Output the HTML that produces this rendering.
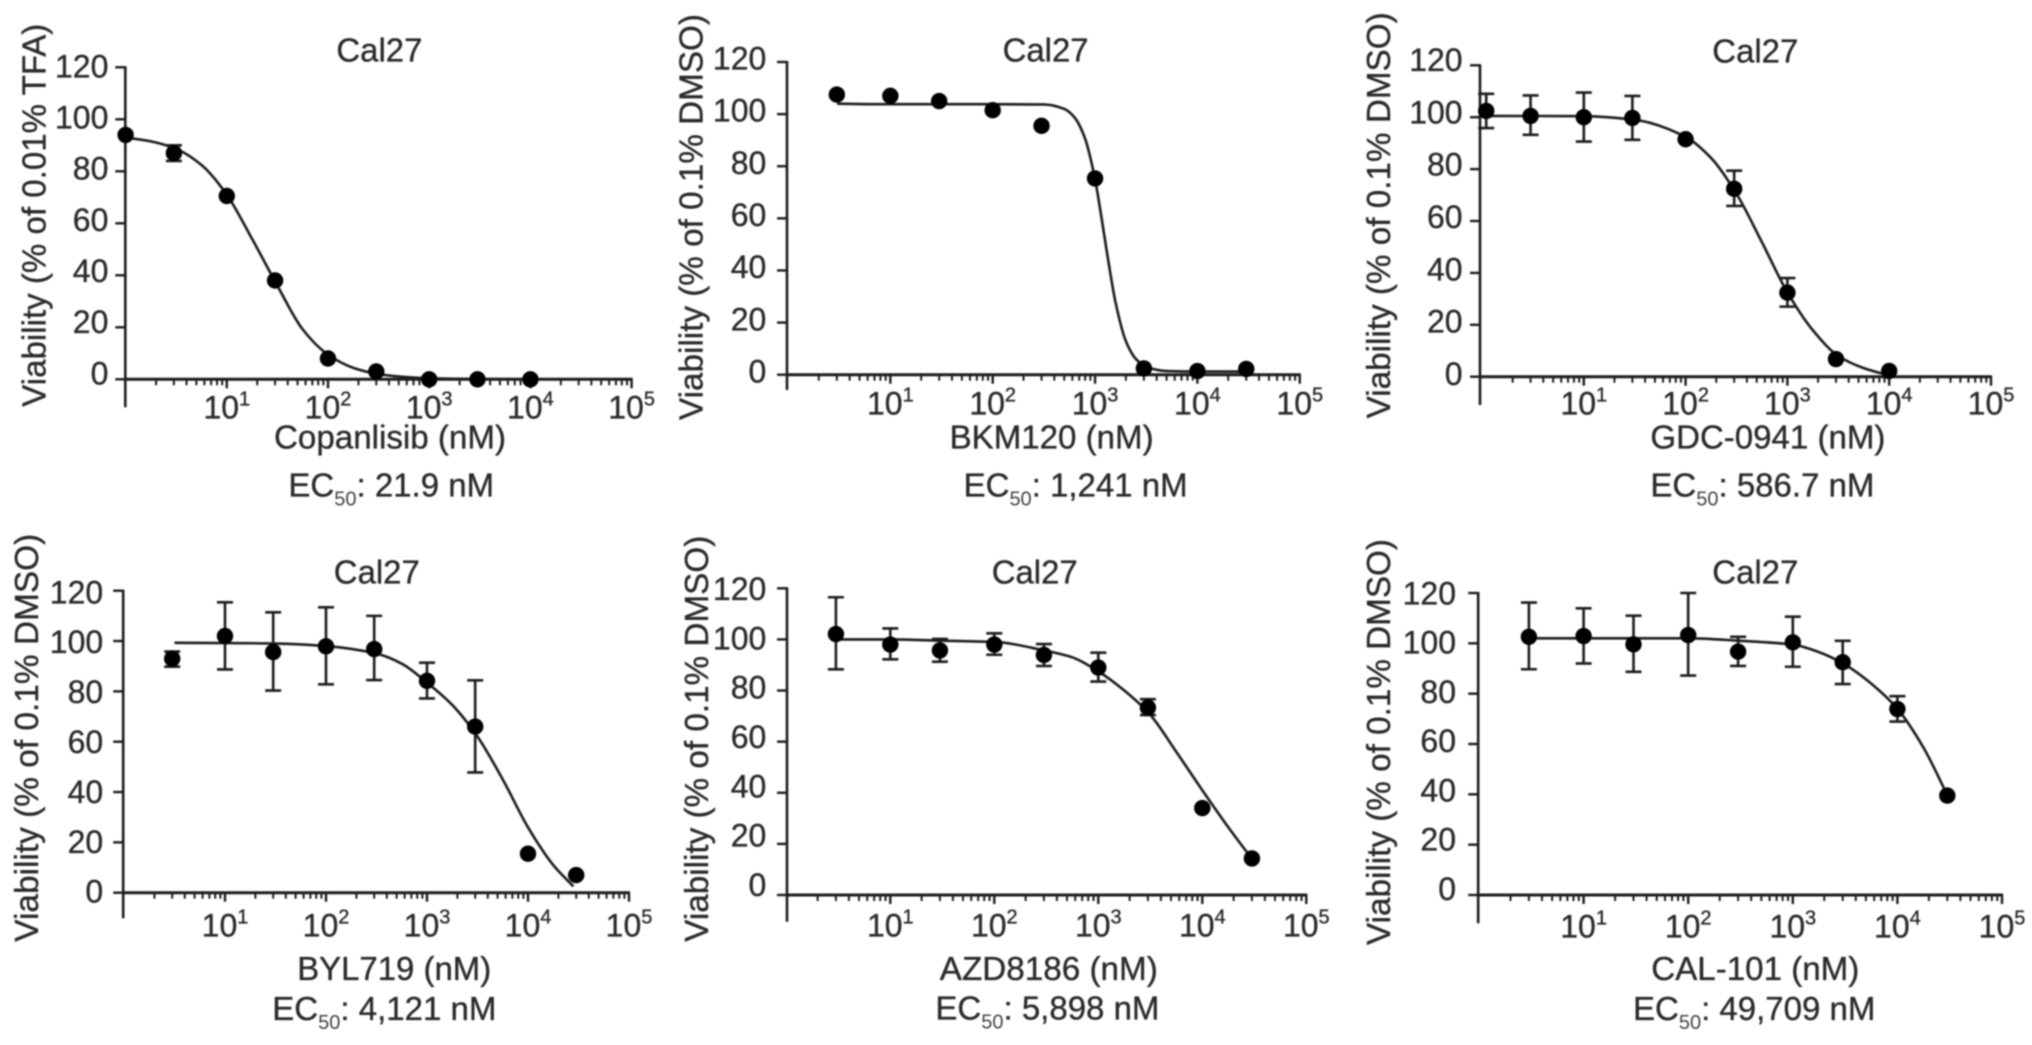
<!DOCTYPE html>
<html lang="en">
<head>
<meta charset="utf-8">
<title>Cal27 viability dose-response curves</title>
<style>
html,body{margin:0;padding:0;background:#fff;}
svg{display:block;}
text{font-family:"Liberation Sans",Arial,sans-serif;fill:#2a2a2a;stroke:#2a2a2a;stroke-width:0.35px;}
.t{font-size:33px;}
.sub{font-size:20px;fill:#444;stroke:none;}
</style>
</head>
<body>
<svg id="figure" xmlns="http://www.w3.org/2000/svg" width="2032" height="1045" viewBox="0 0 2032 1045">
<defs><filter id="soft" x="0" y="0" width="100%" height="100%"><feGaussianBlur stdDeviation="0.7"/></filter></defs>
<rect width="2032" height="1045" fill="#fff"/>
<g filter="url(#soft)">

<g id="panel-0">
<text class="t" x="379.4" y="61.7" text-anchor="middle" textLength="86" lengthAdjust="spacingAndGlyphs">Cal27</text>
<text class="t" x="45.5" y="406.7" transform="rotate(-90 45.5 406.7)" textLength="383" lengthAdjust="spacingAndGlyphs">Viability (% of 0.01% TFA)</text>
<text class="t" x="390" y="448.3" text-anchor="middle" textLength="232" lengthAdjust="spacingAndGlyphs">Copanlisib (nM)</text>
<text class="t" x="288.4" y="496.7">EC<tspan class="sub" dy="9">50</tspan><tspan dy="-9">: 21.9 nM</tspan></text>
</g>

<g id="panel-1">
<text class="t" x="1045.6" y="61.7" text-anchor="middle" textLength="86" lengthAdjust="spacingAndGlyphs">Cal27</text>
<text class="t" x="702.5" y="420" transform="rotate(-90 702.5 420)" textLength="406" lengthAdjust="spacingAndGlyphs">Viability (% of 0.1% DMSO)</text>
<text class="t" x="1051.6" y="448.3" text-anchor="middle" textLength="204" lengthAdjust="spacingAndGlyphs">BKM120 (nM)</text>
<text class="t" x="963.6" y="496.7">EC<tspan class="sub" dy="9">50</tspan><tspan dy="-9">: 1,241 nM</tspan></text>
</g>

<g id="panel-2">
<text class="t" x="1755.3" y="62.7" text-anchor="middle" textLength="86" lengthAdjust="spacingAndGlyphs">Cal27</text>
<text class="t" x="1390.2" y="418.3" transform="rotate(-90 1390.2 418.3)" textLength="406" lengthAdjust="spacingAndGlyphs">Viability (% of 0.1% DMSO)</text>
<text class="t" x="1767.9" y="448.3" text-anchor="middle" textLength="235" lengthAdjust="spacingAndGlyphs">GDC-0941 (nM)</text>
<text class="t" x="1650.4" y="496.7">EC<tspan class="sub" dy="9">50</tspan><tspan dy="-9">: 586.7 nM</tspan></text>
</g>

<g id="panel-3">
<text class="t" x="376.8" y="583.3" text-anchor="middle" textLength="86" lengthAdjust="spacingAndGlyphs">Cal27</text>
<text class="t" x="38.2" y="941.7" transform="rotate(-90 38.2 941.7)" textLength="408" lengthAdjust="spacingAndGlyphs">Viability (% of 0.1% DMSO)</text>
<text class="t" x="394.2" y="980" text-anchor="middle" textLength="194" lengthAdjust="spacingAndGlyphs">BYL719 (nM)</text>
<text class="t" x="272.3" y="1020">EC<tspan class="sub" dy="9">50</tspan><tspan dy="-9">: 4,121 nM</tspan></text>
</g>

<g id="panel-4">
<text class="t" x="1034.7" y="583.3" text-anchor="middle" textLength="86" lengthAdjust="spacingAndGlyphs">Cal27</text>
<text class="t" x="708.2" y="941.7" transform="rotate(-90 708.2 941.7)" textLength="406" lengthAdjust="spacingAndGlyphs">Viability (% of 0.1% DMSO)</text>
<text class="t" x="1048.8" y="980" text-anchor="middle" textLength="218" lengthAdjust="spacingAndGlyphs">AZD8186 (nM)</text>
<text class="t" x="935.4" y="1019.3">EC<tspan class="sub" dy="9">50</tspan><tspan dy="-9">: 5,898 nM</tspan></text>
</g>

<g id="panel-5">
<text class="t" x="1755.3" y="583.3" text-anchor="middle" textLength="86" lengthAdjust="spacingAndGlyphs">Cal27</text>
<text class="t" x="1390.2" y="945" transform="rotate(-90 1390.2 945)" textLength="406" lengthAdjust="spacingAndGlyphs">Viability (% of 0.1% DMSO)</text>
<text class="t" x="1755.3" y="980" text-anchor="middle" textLength="208" lengthAdjust="spacingAndGlyphs">CAL-101 (nM)</text>
<text class="t" x="1633" y="1020">EC<tspan class="sub" dy="9">50</tspan><tspan dy="-9">: 49,709 nM</tspan></text>
</g>

</g>
</svg>

<script>
// ---------- shared axis data ----------
const yTickValues = [0, 20, 40, 60, 80, 100, 120];
const xTickExponents = [1, 2, 3, 4, 5];
const minorMultipliers = [2, 3, 4, 5, 6, 7, 8, 9];
const minorDecades = [0, 1, 2, 3, 4];

// ---------- Copanlisib ----------
const copanlisibDoses = [1, 3, 10, 30, 100, 300, 1000, 3000, 10000];
const copanlisibViability = [94, 87, 70.5, 38, 8, 3, 0, 0, 0];
const copanlisibErrHigh = [null, 90, null, null, null, null, null, null, null];
const copanlisibErrLow = [null, 84, null, null, null, null, null, null, null];
const copanlisibCurveLogDose = [0, 0.25, 0.5, 0.75, 1, 1.25, 1.5, 1.75, 2, 2.25, 2.5, 2.75, 3, 3.5, 4];
const copanlisibCurveValues = [93, 91.5, 88.6, 82.4, 71, 54, 36, 19.2, 9.5, 4.4, 2, 0.9, 0.4, 0.08, 0];

// ---------- BKM120 ----------
const bkm120Doses = [3, 10, 30, 100, 300, 1000, 3000, 10000, 30000];
const bkm120Viability = [107.5, 107, 105, 101.5, 95.5, 75.3, 2.4, 1.4, 2.2];
const bkm120ErrHigh = [null, null, null, null, null, null, null, null, null];
const bkm120ErrLow = [null, null, null, null, null, null, null, null, null];
const bkm120CurveLogDose = [0.48, 1, 2, 2.5, 2.7, 2.8, 2.9, 3, 3.05, 3.1, 3.15, 3.2, 3.3, 3.4, 3.5, 3.7, 4, 4.48];
const bkm120CurveValues = [104, 103.8, 103.8, 103.7, 102, 98.7, 90.9, 75, 63.5, 51, 38.7, 27.8, 13, 6, 3, 1.4, 1.2, 1.2];

// ---------- GDC-0941 ----------
const gdcDoses = [1.1, 3, 10, 30, 100, 300, 1000, 3000, 10000];
const gdcViability = [102.4, 100.5, 100, 99.7, 91.5, 72.4, 32.4, 6.8, 2.2];
const gdcErrHigh = [109, 108.4, 109.5, 108.2, null, 79.4, 38, null, null];
const gdcErrLow = [95.8, 93.2, 90.6, 91.3, null, 65.8, 27, null, null];
const gdcCurveLogDose = [0, 1, 1.5, 2, 2.25, 2.5, 2.75, 3, 3.25, 3.5, 3.75, 4, 4.05];
const gdcCurveValues = [100.5, 100.4, 99, 92.4, 84.3, 70.5, 51.8, 32.5, 17.9, 8, 3.3, 0.5, 0];

// ---------- BYL719 ----------
const bylDoses = [3, 10, 30, 100, 300, 1000, 3000, 10000, 30000];
const bylViability = [93, 102, 95.6, 97.9, 96.8, 84.2, 66, 15.5, 7];
const bylErrHigh = [95.8, 115.4, 111.4, 113.4, 110, 91.4, 84.4, null, null];
const bylErrLow = [89.8, 88.7, 80.3, 82.8, 84.5, 77.2, 47.8, null, null];
const bylCurveLogDose = [0.5, 1, 1.5, 2, 2.5, 2.75, 3, 3.25, 3.5, 3.75, 4, 4.25, 4.45];
const bylCurveValues = [99.3, 99.2, 99, 98, 95, 91, 83.5, 74.6, 62, 45, 26, 11, 2.5];

// ---------- AZD8186 ----------
const azdDoses = [3, 10, 30, 100, 300, 1000, 3000, 10000, 30000];
const azdViability = [102.1, 98, 95.7, 98, 93.9, 89, 73.3, 34, 14.3];
const azdErrHigh = [116.5, 104.3, 100.2, 102.4, 98.2, 94.8, 76.6, null, null];
const azdErrLow = [88.3, 92.2, 91.3, 94, 89.6, 83.5, 70.4, null, null];
const azdCurveLogDose = [0.48, 1, 1.5, 2, 2.5, 2.75, 3, 3.25, 3.5, 3.75, 4, 4.25, 4.48];
const azdCurveValues = [100, 100, 99.5, 99, 95.5, 93, 87.5, 80, 70.5, 56, 41, 26.5, 14];

// ---------- CAL-101 ----------
const calDoses = [3, 10, 30, 100, 300, 1000, 3000, 10000, 30000];
const calViability = [102.6, 102.9, 99.6, 103.3, 96.7, 100.4, 92.5, 73.9, 39.5];
const calErrHigh = [116.2, 113.9, 111, 120, 102.6, 110.6, 101, 79, null];
const calErrLow = [89.7, 92, 88.7, 87.2, 91, 90.7, 83.8, 68.9, null];
const calCurveLogDose = [0.48, 1.5, 2, 2.5, 3, 3.25, 3.5, 3.75, 4, 4.25, 4.48];
const calCurveValues = [102, 102, 102, 101, 99.5, 96.5, 91.5, 84, 74, 58.5, 39.5];

// ---------- panel frames (pixel layout, kept apart from the data) ----------
const frames = [
  {axisX:125.3, decade0:125.6, decade:101.2, y0:379.3, y120:67.3, bottom:407.3, labelEnd:108.4, label0:384.3, label120:77.3, xLabelBase:418.3},
  {axisX:787, decade0:788, decade:102.35, y0:374.7, y120:62, bottom:390, labelEnd:766.3, label0:382.7, label120:69.3, xLabelBase:414.3},
  {axisX:1480, decade0:1482, decade:101.8, y0:376.7, y120:65.3, bottom:405, labelEnd:1462.6, label0:385, label120:71, xLabelBase:414.3},
  {axisX:123.2, decade0:124, decade:101, y0:892.7, y120:590.7, bottom:918.3, labelEnd:103.2, label0:902.7, label120:603.3, xLabelBase:936.7},
  {axisX:787, decade0:786.3, decade:104, y0:895, y120:588.3, bottom:921.7, labelEnd:766.3, label0:896, label120:600, xLabelBase:936.7},
  {axisX:1478.2, decade0:1479, decade:104.6, y0:895, y120:593, bottom:923.3, labelEnd:1456, label0:900, label120:604.3, xLabelBase:937.7}
];

const NS = 'http://www.w3.org/2000/svg';
const INK = '#1c1c1c';

function make(parent, tag, attrs) {
  const el = document.createElementNS(NS, tag);
  for (const k in attrs) el.setAttribute(k, attrs[k]);
  parent.appendChild(el);
  return el;
}

function monotonePath(xs, ys) {
  const n = xs.length, dx = [], m = [], t = [];
  for (let i = 0; i < n - 1; i++) {
    dx[i] = xs[i + 1] - xs[i];
    m[i] = (ys[i + 1] - ys[i]) / dx[i];
  }
  t[0] = m[0];
  t[n - 1] = m[n - 2];
  for (let i = 1; i < n - 1; i++) {
    if (m[i - 1] * m[i] <= 0) { t[i] = 0; }
    else {
      const w1 = 2 * dx[i] + dx[i - 1], w2 = dx[i] + 2 * dx[i - 1];
      t[i] = (w1 + w2) / (w1 / m[i - 1] + w2 / m[i]);
    }
  }
  let d = 'M' + xs[0].toFixed(2) + ' ' + ys[0].toFixed(2);
  for (let i = 0; i < n - 1; i++) {
    const h = dx[i] / 3;
    d += 'C' + (xs[i] + h).toFixed(2) + ' ' + (ys[i] + t[i] * h).toFixed(2) + ' ' +
         (xs[i + 1] - h).toFixed(2) + ' ' + (ys[i + 1] - t[i + 1] * h).toFixed(2) + ' ' +
         xs[i + 1].toFixed(2) + ' ' + ys[i + 1].toFixed(2);
  }
  return d;
}

function drawPanel(index, doses, values, errHigh, errLow, curveLog, curveValues) {
  const f = frames[index];
  const host = document.getElementById('panel-' + index);
  const xLog = function (lg) { return f.decade0 + f.decade * lg; };
  const xDose = function (dose) { return xLog(Math.log10(dose)); };
  const yVal = function (v) { return f.y0 - v * (f.y0 - f.y120) / 120; };
  const yLabel = function (v) { return f.label0 - v * (f.label0 - f.label120) / 120; };

  const yAxis = make(host, 'line', {x1:f.axisX, x2:f.axisX, y1:yVal(120) - 1, y2:f.bottom, stroke:INK, 'stroke-width':2.6});
  
  

  const xAxis = make(host, 'line', {x1:f.axisX, x2:xLog(5) + 1, y1:f.y0, y2:f.y0, stroke:INK, 'stroke-width':3});
  
  

  yTickValues.forEach(function (v) {
    const tick = make(host, 'line', {x1:f.axisX - 10, x2:f.axisX, y1:yVal(v), y2:yVal(v), stroke:INK, 'stroke-width':2.4});
    
    
    const label = make(host, 'text', {x:f.labelEnd, y:yLabel(v), 'text-anchor':'end', 'font-size':32});
    
    
    label.textContent = String(v);
  });

  minorDecades.forEach(function (dec) {
    minorMultipliers.forEach(function (mult) {
      const px = xLog(dec + Math.log10(mult));
      const minor = make(host, 'line', {x1:px, x2:px, y1:f.y0, y2:f.y0 + 6, stroke:INK, 'stroke-width':2});
      
      
    });
  });

  xTickExponents.forEach(function (exp) {
    const px = xLog(exp);
    const tick = make(host, 'line', {x1:px, x2:px, y1:f.y0, y2:f.y0 + 9, stroke:INK, 'stroke-width':2.4});
    
    
    const label = make(host, 'text', {x:px, y:f.xLabelBase, 'text-anchor':'middle', 'font-size':32});
    
    
    label.appendChild(document.createTextNode('10'));
    const sup = make(label, 'tspan', {dy:-13, 'font-size':20});
    sup.textContent = String(exp);
  });

  const curve = make(host, 'path', {
    d: monotonePath(curveLog.map(xLog), curveValues.map(yVal)),
    fill:'none', stroke:INK, 'stroke-width':2.6
  });
  
  

  doses.forEach(function (dose, i) {
    const px = xDose(dose);
    if (errHigh[i] !== null) {
      const hi = yVal(errHigh[i]), lo = yVal(errLow[i]);
      const bar = make(host, 'path', {
        d: 'M' + px + ' ' + hi + 'V' + lo + 'M' + (px - 8) + ' ' + hi + 'H' + (px + 8) + 'M' + (px - 8) + ' ' + lo + 'H' + (px + 8),
        fill:'none', stroke:INK, 'stroke-width':2.6
      });
      
      
    }
    const dot = make(host, 'circle', {cx:px, cy:yVal(values[i]), r:8.2, fill:'#000'});
    
    
  });
}

drawPanel(0, copanlisibDoses, copanlisibViability, copanlisibErrHigh, copanlisibErrLow, copanlisibCurveLogDose, copanlisibCurveValues);
drawPanel(1, bkm120Doses, bkm120Viability, bkm120ErrHigh, bkm120ErrLow, bkm120CurveLogDose, bkm120CurveValues);
drawPanel(2, gdcDoses, gdcViability, gdcErrHigh, gdcErrLow, gdcCurveLogDose, gdcCurveValues);
drawPanel(3, bylDoses, bylViability, bylErrHigh, bylErrLow, bylCurveLogDose, bylCurveValues);
drawPanel(4, azdDoses, azdViability, azdErrHigh, azdErrLow, azdCurveLogDose, azdCurveValues);
drawPanel(5, calDoses, calViability, calErrHigh, calErrLow, calCurveLogDose, calCurveValues);
</script>
</body>
</html>
